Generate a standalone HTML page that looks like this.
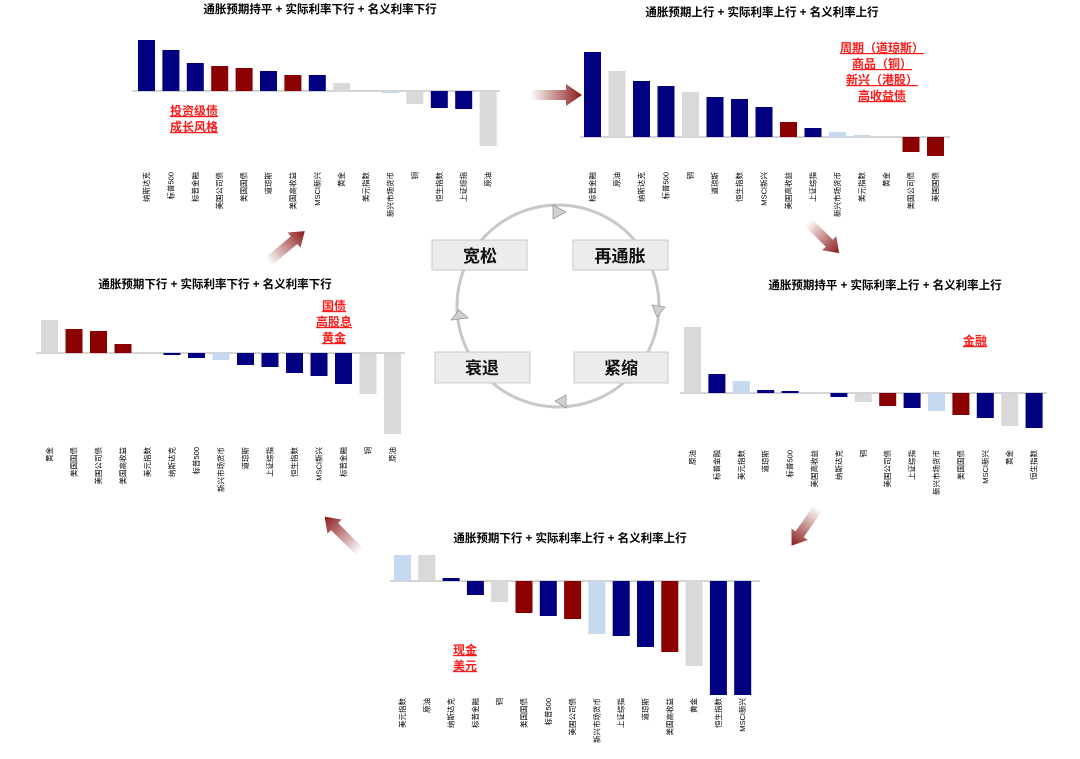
<!DOCTYPE html>
<html><head><meta charset="utf-8"><style>
body{margin:0;background:#fff}
svg{display:block;font-family:"Liberation Sans","Noto Sans CJK SC",sans-serif}
.t{font-size:11.5px;font-weight:bold;text-anchor:middle;fill:#000}
.l text{font-size:7.5px;text-anchor:end;dominant-baseline:central;fill:#000}
.r{font-size:12px;font-weight:bold;fill:#ff1a1a;text-anchor:middle;text-decoration:underline}
.n{fill:#000080}.d{fill:#8b0000}.g{fill:#d9d9d9}.b{fill:#c6d9f1}
.ax{stroke:#aaa;stroke-width:1}
.bx{fill:#ececec;stroke:#c8c8c8}
.bt{font-size:17px;font-weight:bold;text-anchor:middle;fill:#111}
</style></head><body>
<svg width="1080" height="759" viewBox="0 0 1080 759">
<defs>
<linearGradient id="ga" x1="0" y1="0" x2="1" y2="0"><stop offset="0" stop-color="#8b1a1a" stop-opacity="0"/><stop offset="1" stop-color="#8b1a1a"/></linearGradient>
</defs>
<text class="t" x="320" y="13">通胀预期持平 + 实际利率下行 + 名义利率下行</text>
<text class="t" x="762" y="16">通胀预期上行 + 实际利率上行 + 名义利率上行</text>
<text class="t" x="885" y="289">通胀预期持平 + 实际利率上行 + 名义利率上行</text>
<text class="t" x="215" y="288">通胀预期下行 + 实际利率下行 + 名义利率下行</text>
<text class="t" x="570" y="542">通胀预期下行 + 实际利率上行 + 名义利率上行</text>

<line class="ax" x1="132" y1="91" x2="500" y2="91"/>
<rect class="n" x="138" y="40" width="17" height="51"/>
<rect class="n" x="162.4" y="50" width="17" height="41"/>
<rect class="n" x="186.8" y="63" width="17" height="28"/>
<rect class="d" x="211.2" y="66" width="17" height="25"/>
<rect class="d" x="235.6" y="68" width="17" height="23"/>
<rect class="n" x="260" y="71" width="17" height="20"/>
<rect class="d" x="284.4" y="75" width="17" height="16"/>
<rect class="n" x="308.8" y="75" width="17" height="16"/>
<rect class="g" x="333.2" y="83" width="17" height="8"/>
<rect class="b" x="382" y="91" width="17" height="2"/>
<rect class="g" x="406.4" y="91" width="17" height="13"/>
<rect class="n" x="430.8" y="91" width="17" height="17"/>
<rect class="n" x="455.2" y="91" width="17" height="18"/>
<rect class="g" x="479.6" y="91" width="17" height="55"/>
<g class="l">
<text transform="translate(146.5,172) rotate(-90)">纳斯达克</text>
<text transform="translate(170.9,172) rotate(-90)">标普500</text>
<text transform="translate(195.3,172) rotate(-90)">标普金融</text>
<text transform="translate(219.7,172) rotate(-90)">美国公司债</text>
<text transform="translate(244.1,172) rotate(-90)">美国国债</text>
<text transform="translate(268.5,172) rotate(-90)">道琼斯</text>
<text transform="translate(292.9,172) rotate(-90)">美国高收益</text>
<text transform="translate(317.3,172) rotate(-90)">MSCI新兴</text>
<text transform="translate(341.7,172) rotate(-90)">黄金</text>
<text transform="translate(366.1,172) rotate(-90)">美元指数</text>
<text transform="translate(390.5,172) rotate(-90)">新兴市场货币</text>
<text transform="translate(414.9,172) rotate(-90)">铜</text>
<text transform="translate(439.3,172) rotate(-90)">恒生指数</text>
<text transform="translate(463.7,172) rotate(-90)">上证综指</text>
<text transform="translate(488.1,172) rotate(-90)">原油</text>
</g>
<text class="r" x="194" y="115">投资级债</text>
<text class="r" x="194" y="131">成长风格</text>

<line class="ax" x1="580" y1="137" x2="950" y2="137"/>
<rect class="n" x="584" y="52" width="17" height="85"/>
<rect class="g" x="608.5" y="71" width="17" height="66"/>
<rect class="n" x="633" y="81" width="17" height="56"/>
<rect class="n" x="657.5" y="86" width="17" height="51"/>
<rect class="g" x="682" y="92" width="17" height="45"/>
<rect class="n" x="706.5" y="97" width="17" height="40"/>
<rect class="n" x="731" y="99" width="17" height="38"/>
<rect class="n" x="755.5" y="107" width="17" height="30"/>
<rect class="d" x="780" y="122" width="17" height="15"/>
<rect class="n" x="804.5" y="128" width="17" height="9"/>
<rect class="b" x="829" y="132" width="17" height="5"/>
<rect class="b" x="853.5" y="135" width="17" height="2"/>
<rect class="d" x="902.5" y="137" width="17" height="15"/>
<rect class="d" x="927" y="137" width="17" height="19"/>
<g class="l">
<text transform="translate(592.5,172) rotate(-90)">标普金融</text>
<text transform="translate(617,172) rotate(-90)">原油</text>
<text transform="translate(641.5,172) rotate(-90)">纳斯达克</text>
<text transform="translate(666,172) rotate(-90)">标普500</text>
<text transform="translate(690.5,172) rotate(-90)">铜</text>
<text transform="translate(715,172) rotate(-90)">道琼斯</text>
<text transform="translate(739.5,172) rotate(-90)">恒生指数</text>
<text transform="translate(764,172) rotate(-90)">MSCI新兴</text>
<text transform="translate(788.5,172) rotate(-90)">美国高收益</text>
<text transform="translate(813,172) rotate(-90)">上证综指</text>
<text transform="translate(837.5,172) rotate(-90)">新兴市场货币</text>
<text transform="translate(862,172) rotate(-90)">美元指数</text>
<text transform="translate(886.5,172) rotate(-90)">黄金</text>
<text transform="translate(911,172) rotate(-90)">美国公司债</text>
<text transform="translate(935.5,172) rotate(-90)">美国国债</text>
</g>
<text class="r" x="882" y="52">周期（道琼斯）</text>
<text class="r" x="882" y="68">商品（铜）</text>
<text class="r" x="882" y="84">新兴（港股）</text>
<text class="r" x="882" y="100">高收益债</text>

<line class="ax" x1="680" y1="393" x2="1047" y2="393"/>
<rect class="g" x="684" y="327" width="17" height="66"/>
<rect class="n" x="708.4" y="374" width="17" height="19"/>
<rect class="b" x="732.8" y="381" width="17" height="12"/>
<rect class="n" x="757.2" y="390" width="17" height="3"/>
<rect class="n" x="781.6" y="391" width="17" height="2"/>
<rect class="n" x="830.4" y="393" width="17" height="4"/>
<rect class="g" x="854.8" y="393" width="17" height="9"/>
<rect class="d" x="879.2" y="393" width="17" height="13"/>
<rect class="n" x="903.6" y="393" width="17" height="15"/>
<rect class="b" x="928" y="393" width="17" height="18"/>
<rect class="d" x="952.4" y="393" width="17" height="22"/>
<rect class="n" x="976.8" y="393" width="17" height="25"/>
<rect class="g" x="1001.2" y="393" width="17" height="33"/>
<rect class="n" x="1025.6" y="393" width="17" height="35"/>
<g class="l">
<text transform="translate(692.5,450) rotate(-90)">原油</text>
<text transform="translate(716.9,450) rotate(-90)">标普金融</text>
<text transform="translate(741.3,450) rotate(-90)">美元指数</text>
<text transform="translate(765.7,450) rotate(-90)">道琼斯</text>
<text transform="translate(790.1,450) rotate(-90)">标普500</text>
<text transform="translate(814.5,450) rotate(-90)">美国高收益</text>
<text transform="translate(838.9,450) rotate(-90)">纳斯达克</text>
<text transform="translate(863.3,450) rotate(-90)">铜</text>
<text transform="translate(887.7,450) rotate(-90)">美国公司债</text>
<text transform="translate(912.1,450) rotate(-90)">上证综指</text>
<text transform="translate(936.5,450) rotate(-90)">新兴市场货币</text>
<text transform="translate(960.9,450) rotate(-90)">美国国债</text>
<text transform="translate(985.3,450) rotate(-90)">MSCI新兴</text>
<text transform="translate(1009.7,450) rotate(-90)">黄金</text>
<text transform="translate(1034.1,450) rotate(-90)">恒生指数</text>
</g>
<text class="r" x="975" y="345">金融</text>

<line class="ax" x1="36" y1="353" x2="405" y2="353"/>
<rect class="g" x="41" y="320" width="17" height="33"/>
<rect class="d" x="65.5" y="329" width="17" height="24"/>
<rect class="d" x="90" y="331" width="17" height="22"/>
<rect class="d" x="114.5" y="344" width="17" height="9"/>
<rect class="n" x="163.5" y="353" width="17" height="2"/>
<rect class="n" x="188" y="353" width="17" height="5"/>
<rect class="b" x="212.5" y="353" width="17" height="7"/>
<rect class="n" x="237" y="353" width="17" height="12"/>
<rect class="n" x="261.5" y="353" width="17" height="14"/>
<rect class="n" x="286" y="353" width="17" height="20"/>
<rect class="n" x="310.5" y="353" width="17" height="23"/>
<rect class="n" x="335" y="353" width="17" height="31"/>
<rect class="g" x="359.5" y="353" width="17" height="41"/>
<rect class="g" x="384" y="353" width="17" height="81"/>
<g class="l">
<text transform="translate(49.5,447) rotate(-90)">黄金</text>
<text transform="translate(74,447) rotate(-90)">美国国债</text>
<text transform="translate(98.5,447) rotate(-90)">美国公司债</text>
<text transform="translate(123,447) rotate(-90)">美国高收益</text>
<text transform="translate(147.5,447) rotate(-90)">美元指数</text>
<text transform="translate(172,447) rotate(-90)">纳斯达克</text>
<text transform="translate(196.5,447) rotate(-90)">标普500</text>
<text transform="translate(221,447) rotate(-90)">新兴市场货币</text>
<text transform="translate(245.5,447) rotate(-90)">道琼斯</text>
<text transform="translate(270,447) rotate(-90)">上证综指</text>
<text transform="translate(294.5,447) rotate(-90)">恒生指数</text>
<text transform="translate(319,447) rotate(-90)">MSCI新兴</text>
<text transform="translate(343.5,447) rotate(-90)">标普金融</text>
<text transform="translate(368,447) rotate(-90)">铜</text>
<text transform="translate(392.5,447) rotate(-90)">原油</text>
</g>
<text class="r" x="334" y="310">国债</text>
<text class="r" x="334" y="326">高股息</text>
<text class="r" x="334" y="342">黄金</text>

<line class="ax" x1="390" y1="581" x2="760" y2="581"/>
<rect class="b" x="394" y="555" width="17" height="26"/>
<rect class="g" x="418.3" y="555" width="17" height="26"/>
<rect class="n" x="442.6" y="578" width="17" height="3"/>
<rect class="n" x="466.9" y="581" width="17" height="14"/>
<rect class="g" x="491.2" y="581" width="17" height="21"/>
<rect class="d" x="515.5" y="581" width="17" height="32"/>
<rect class="n" x="539.8" y="581" width="17" height="35"/>
<rect class="d" x="564.1" y="581" width="17" height="38"/>
<rect class="b" x="588.4" y="581" width="17" height="53"/>
<rect class="n" x="612.7" y="581" width="17" height="55"/>
<rect class="n" x="637" y="581" width="17" height="66"/>
<rect class="d" x="661.3" y="581" width="17" height="71"/>
<rect class="g" x="685.6" y="581" width="17" height="85"/>
<rect class="n" x="709.9" y="581" width="17" height="114"/>
<rect class="n" x="734.2" y="581" width="17" height="114"/>
<g class="l">
<text transform="translate(402.5,698) rotate(-90)">美元指数</text>
<text transform="translate(426.8,698) rotate(-90)">原油</text>
<text transform="translate(451.1,698) rotate(-90)">纳斯达克</text>
<text transform="translate(475.4,698) rotate(-90)">标普金融</text>
<text transform="translate(499.7,698) rotate(-90)">铜</text>
<text transform="translate(524,698) rotate(-90)">美国国债</text>
<text transform="translate(548.3,698) rotate(-90)">标普500</text>
<text transform="translate(572.6,698) rotate(-90)">美国公司债</text>
<text transform="translate(596.9,698) rotate(-90)">新兴市场货币</text>
<text transform="translate(621.2,698) rotate(-90)">上证综指</text>
<text transform="translate(645.5,698) rotate(-90)">道琼斯</text>
<text transform="translate(669.8,698) rotate(-90)">美国高收益</text>
<text transform="translate(694.1,698) rotate(-90)">黄金</text>
<text transform="translate(718.4,698) rotate(-90)">恒生指数</text>
<text transform="translate(742.7,698) rotate(-90)">MSCI新兴</text>
</g>
<text class="r" x="465" y="654">现金</text>
<text class="r" x="465" y="670">美元</text>

<circle cx="558" cy="306" r="101" fill="none" stroke="#c8c8c8" stroke-width="3"/>
<polygon points="553,205 566,212 553,219" fill="#d0d0d0" stroke="#999" stroke-width="0.8"/>
<polygon points="652,305 665,307 657,317" fill="#d0d0d0" stroke="#999" stroke-width="0.8"/>
<polygon points="566,395 555,401 566,408" fill="#d0d0d0" stroke="#999" stroke-width="0.8"/>
<polygon points="451,320 459,310 468,318" fill="#d0d0d0" stroke="#999" stroke-width="0.8"/>
<rect class="bx" x="432" y="240" width="95" height="30"/>
<rect class="bx" x="573" y="240" width="95" height="30"/>
<rect class="bx" x="435" y="352" width="95" height="31"/>
<rect class="bx" x="574" y="352" width="94" height="31"/>
<text class="bt" x="480" y="262">宽松</text>
<text class="bt" x="620" y="262">再通胀</text>
<text class="bt" x="482" y="374">衰退</text>
<text class="bt" x="621" y="374">紧缩</text>

<g fill="url(#ga)">
<polygon transform="translate(530,95)" points="0,-5 36,-5 36,-11 52,0 36,11 36,5 0,5"/>
<polygon transform="translate(808,222) rotate(45)" points="0,-5 30,-5 30,-10 44,0 30,10 30,5 0,5"/>
<polygon transform="translate(818,508) rotate(125)" points="0,-5 32,-5 32,-10 46,0 32,10 32,5 0,5"/>
<polygon transform="translate(360,552) rotate(-135)" points="0,-5 36,-5 36,-10 50,0 36,10 36,5 0,5"/>
<polygon transform="translate(268,262) rotate(-40)" points="0,-5 34,-5 34,-10 48,0 34,10 34,5 0,5"/>
</g>
</svg>
</body></html>
